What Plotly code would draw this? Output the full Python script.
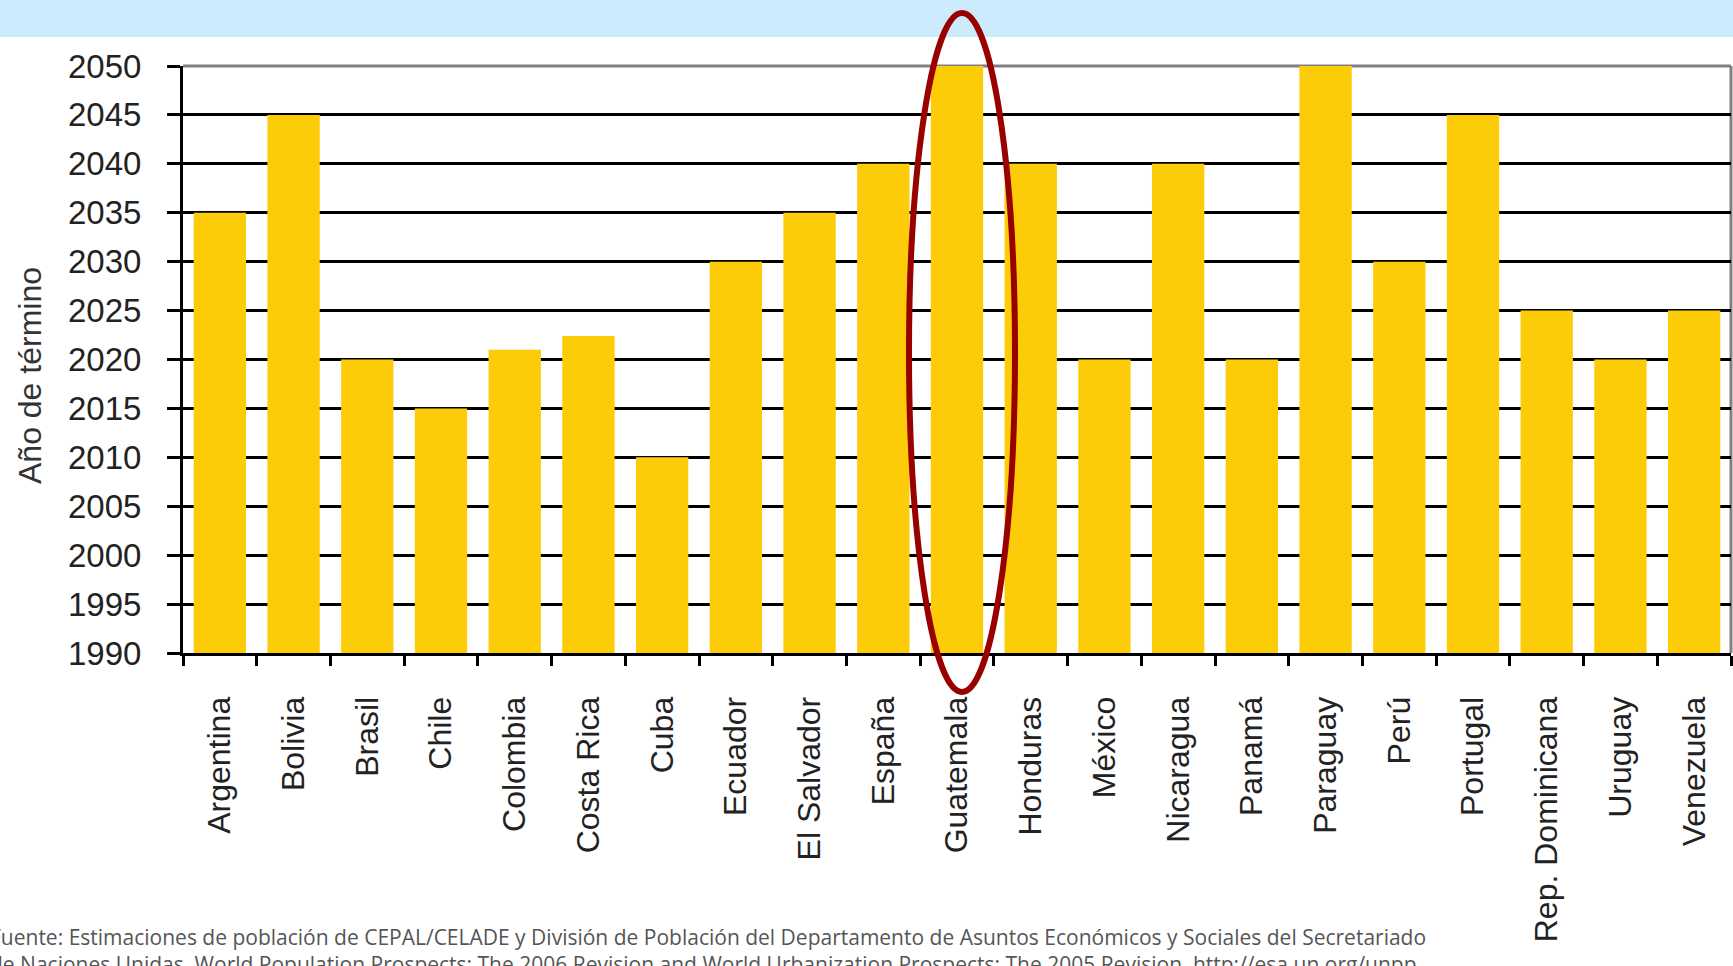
import plotly.graph_objects as go

paises = ["Argentina", "Bolivia", "Brasil", "Chile", "Colombia", "Costa Rica", "Cuba",
          "Ecuador", "El Salvador", "España", "Guatemala", "Honduras", "México",
          "Nicaragua", "Panamá", "Paraguay", "Perú", "Portugal", "Rep. Dominicana",
          "Uruguay", "Venezuela"]
anio_termino = [2035, 2045, 2020, 2015, 2021, 2022.4, 2010,
                2030, 2035, 2040, 2050, 2040, 2020,
                2040, 2020, 2050, 2030, 2045, 2025,
                2020, 2025]
y_ticks = list(range(1990, 2051, 5))

fuente_1 = ("Fuente: Estimaciones de población de CEPAL/CELADE y División de Población del "
            "Departamento de Asuntos Económicos y Sociales del Secretariado")
fuente_2 = ("de Naciones Unidas, World Population Prospects: The 2006 Revision and World "
            "Urbanization Prospects: The 2005 Revision, http://esa.un.org/unpp")

W, H = 1733, 966
fig = go.Figure()
fig.add_trace(go.Bar(x=paises, y=anio_termino, marker=dict(color="#FDCC08", line=dict(width=0)),
                     hoverinfo="x+y"))

font_axis = dict(family="Liberation Sans, Arial, sans-serif", size=33, color="#222222")

fig.update_layout(
    width=W, height=H,
    margin=dict(l=183, r=2, t=66, b=313, autoexpand=False),
    paper_bgcolor="white", plot_bgcolor="white",
    bargap=0.29, showlegend=False,
    font=font_axis,
    xaxis=dict(
        type="category", range=[-0.5, len(paises) - 0.5],
        tickangle=-90, tickfont=dict(family="Liberation Sans, Arial, sans-serif", size=32,
                                     color="#222222"),
        tickson="boundaries",
        ticks="outside", ticklen=10, tickwidth=3, tickcolor="black",
        showline=True, linecolor="black", linewidth=3,
        showgrid=False, ticklabelstandoff=28,
    ),
    yaxis=dict(
        range=[1990, 2050], tickvals=y_ticks, ticktext=[str(v) for v in y_ticks],
        tickfont=font_axis, ticks="outside", ticklen=13, tickwidth=3, tickcolor="black",
        showline=True, linecolor="black", linewidth=3,
        showgrid=True, gridcolor="black", gridwidth=3, zeroline=False,
        ticklabelstandoff=19,
    ),
    shapes=[
        # top banner
        dict(type="rect", xref="paper", yref="paper", x0=-0.2, x1=1.2,
             y0=1 + (66 - 37) / 587, y1=1.3, fillcolor="#CCEBFD", line=dict(width=0),
             layer="below"),
        # gray frame top and right
        dict(type="line", xref="paper", yref="paper", x0=0, x1=1, y0=1, y1=1,
             line=dict(color="#808080", width=3), layer="below"),
        dict(type="line", xref="paper", yref="paper", x0=1, x1=1, y0=0, y1=1,
             line=dict(color="#808080", width=3), layer="below"),
        # red ellipse highlighting Guatemala
        dict(type="circle", xref="paper", yref="paper",
             x0=(909 - 183) / 1548, x1=(1015 - 183) / 1548,
             y0=(653 - 692) / 587, y1=(653 - 13) / 587,
             line=dict(color="#990000", width=6), fillcolor="rgba(0,0,0,0)", layer="above"),
    ],
    annotations=[
        dict(text="Año de término", xref="paper", yref="paper",
             x=(30 - 183) / 1548, y=(653 - 376) / 587, xanchor="center", yanchor="middle",
             textangle=-90, showarrow=False,
             font=dict(family="Liberation Sans, Arial, sans-serif", size=32, color="#333333")),
        dict(text=fuente_1, xref="paper", yref="paper",
             x=(-12 - 183) / 1548, y=-(937 - 653) / 587, xanchor="left", yanchor="middle",
             showarrow=False, font=dict(family="Open Sans, sans-serif", size=21, color="#555555")),
        dict(text=fuente_2, xref="paper", yref="paper",
             x=(-12 - 183) / 1548, y=-(964 - 653) / 587, xanchor="left", yanchor="middle",
             showarrow=False, font=dict(family="Open Sans, sans-serif", size=21, color="#555555")),
    ],
)

fig.write_html("out.html")
